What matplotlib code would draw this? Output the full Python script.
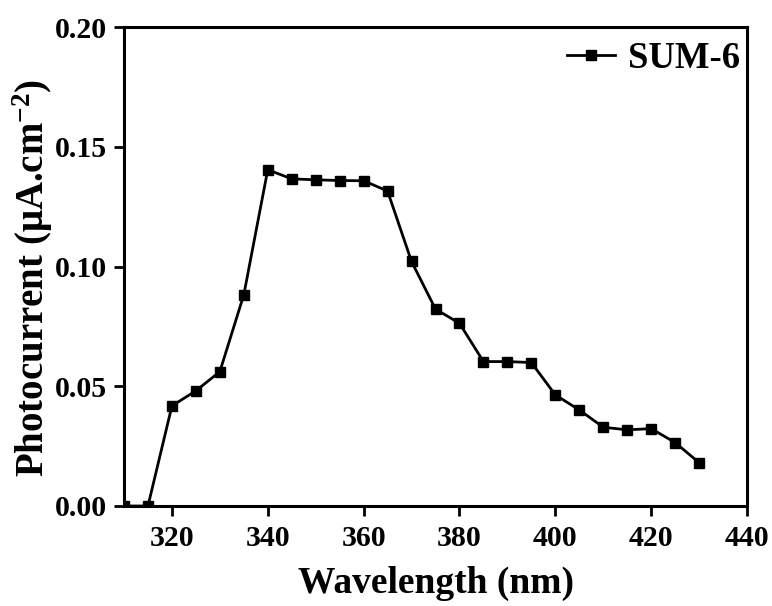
import matplotlib
matplotlib.use('Agg')
import matplotlib.pyplot as plt

wavelength = [310, 315, 320, 325, 330, 335, 340, 345, 350, 355, 360, 365,
              370, 375, 380, 385, 390, 395, 400, 405, 410, 415, 420, 425, 430]
photocurrent = [0.0, 0.0, 0.0418, 0.0481, 0.0561, 0.0882, 0.1404, 0.1366,
                0.1362, 0.1359, 0.1358, 0.1315, 0.1021, 0.0822, 0.0763,
                0.0603, 0.0603, 0.0599, 0.0464, 0.0401, 0.0329, 0.0318,
                0.0323, 0.0265, 0.0181]
x_ticks = [320, 340, 360, 380, 400, 420, 440]
y_ticks = [0.00, 0.05, 0.10, 0.15, 0.20]

plt.rcParams['font.family'] = 'Liberation Serif'
plt.rcParams['font.weight'] = 'bold'
plt.rcParams['mathtext.fontset'] = 'custom'
plt.rcParams['mathtext.rm'] = 'Liberation Serif:bold'
plt.rcParams['mathtext.it'] = 'Liberation Serif:bold'
plt.rcParams['mathtext.bf'] = 'Liberation Serif:bold'

fig = plt.figure(figsize=(7.72, 6.06), dpi=100)
ax = fig.add_axes([124 / 772, 1 - 506 / 606, (747 - 124) / 772, (506 - 27) / 606])

ax.plot(wavelength, photocurrent, color='black', linewidth=2,
        marker='s', markersize=7.5, label='SUM-6')

ax.set_xlim(310, 440)
ax.set_ylim(0, 0.20)
ax.set_xticks(x_ticks)
ax.set_yticks(y_ticks)
ax.set_yticklabels([f'{v:.2f}' for v in y_ticks])
ax.tick_params(direction='out', length=7, width=2, labelsize=21.5, pad=5)
ax.tick_params(axis='x', pad=7)
for s in ax.spines.values():
    s.set_linewidth(2.2)

ax.set_xlabel('Wavelength (nm)', fontsize=27, fontweight='bold', labelpad=10)
ax.set_ylabel('Photocurrent (μA.cm$^{\\mathrm{-2}}$)', fontsize=28, fontweight='bold')
ax.yaxis.set_label_coords(-0.11, 0.476)

leg = ax.legend(loc='upper right', bbox_to_anchor=(1.0, 0.987), frameon=False,
                fontsize=26.5, handlelength=1.3, handletextpad=0.35,
                borderaxespad=0.0, borderpad=0.2)

fig.savefig('out.png', dpi=100)
